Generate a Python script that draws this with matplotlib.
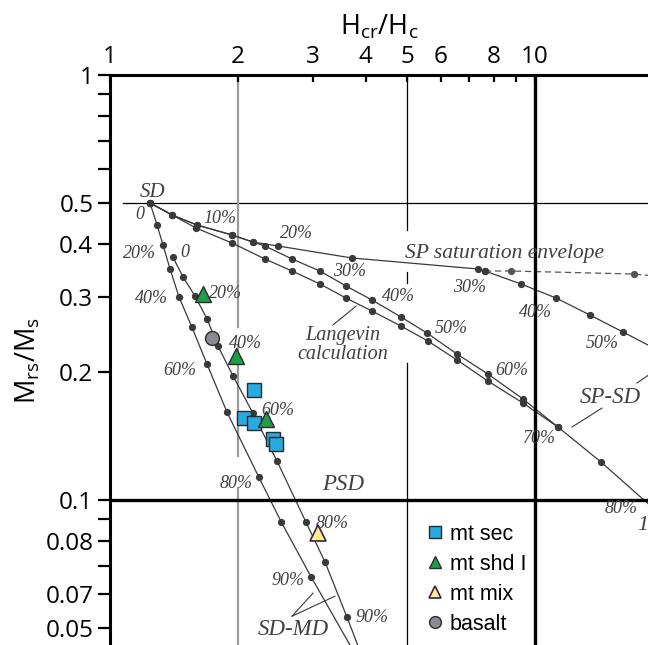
import matplotlib
matplotlib.use("Agg")
import matplotlib.pyplot as plt

# SD-MD mixing curves, one dot per mixing step; last point only extends the line
sdmd1_x = [1.242, 1.290, 1.333, 1.384, 1.454, 1.559, 1.691, 1.885, 2.242, 2.526, 2.972, 3.90]
sdmd1_y = [0.500, 0.444, 0.398, 0.350, 0.300, 0.255, 0.209, 0.161, 0.113, 0.089, 0.066, 0.041]
sdmd2_x = [1.406, 1.485, 1.585, 1.691, 1.796, 1.947, 2.170, 2.472, 2.892, 3.206, 3.612, 3.95]
sdmd2_y = [0.373, 0.335, 0.302, 0.267, 0.230, 0.196, 0.160, 0.1235, 0.0887, 0.0715, 0.0530, 0.042]

# SP-SD mixing curve and the Langevin calculation
spsd_x = [1.242, 1.399, 1.602, 1.937, 2.170, 2.316, 2.681, 3.119, 3.592, 4.136, 4.838, 5.570,
          6.553, 7.750, 9.371, 11.33, 14.30, 22.5]
spsd_y = [0.500, 0.4685, 0.4437, 0.4203, 0.4045, 0.3960, 0.3691, 0.3458, 0.3189, 0.2955, 0.2696,
          0.2472, 0.2206, 0.1979, 0.1729, 0.1485, 0.1229, 0.0823]
lang_x = [1.242, 1.594, 1.937, 2.316, 2.681, 3.119, 3.592, 4.136, 4.838, 5.600, 6.553, 7.750,
          9.371, 11.33]
lang_y = [0.500, 0.4365, 0.4025, 0.3691, 0.3458, 0.3224, 0.2987, 0.2784, 0.2567, 0.2366, 0.2136,
          0.1905, 0.1691, 0.1485]

# SP saturation envelope (solid part, then dashed) and the fine-SP mixing curve leaving it
env_x = [1.242, 1.399, 1.602, 1.937, 2.170, 2.485, 3.710, 7.341, 7.625]
env_y = [0.500, 0.4685, 0.4437, 0.4203, 0.4045, 0.3960, 0.3711, 0.3496, 0.3458]
env_dash_x = [7.625, 8.779, 17.10, 19.5]
env_dash_y = [0.3458, 0.3458, 0.3402, 0.336]
spsd2_x = [7.625, 9.270, 11.21, 13.47, 16.11, 19.5]
spsd2_y = [0.3458, 0.3224, 0.2987, 0.2725, 0.2485, 0.2250]

# samples
mt_sec_x = [2.182, 2.067, 2.182, 2.419, 2.459]
mt_sec_y = [0.1815, 0.156, 0.1518, 0.1391, 0.1354]
mt_shd_x = [1.655, 1.980, 2.329]
mt_shd_y = [0.3053, 0.2183, 0.155]
mt_mix_x = [3.086]
mt_mix_y = [0.0836]
basalt_x = [1.738]
basalt_y = [0.2405]

x_ticks = [1, 2, 3, 4, 5, 6, 7, 8, 9, 10]
x_labels = ["1", "2", "3", "4", "5", "6", "", "8", "", "10"]
y_ticks = [1, 0.9, 0.8, 0.7, 0.6, 0.5, 0.4, 0.3, 0.2, 0.1, 0.09, 0.08, 0.07, 0.06, 0.05]
y_labels = ["1", "", "", "", "", "0.5", "0.4", "0.3", "0.2", "0.1", "", "0.08", "", "0.07", "0.05"]

plt.rcParams["font.family"] = "Open Sans"
plt.rcParams["mathtext.fontset"] = "custom"
plt.rcParams["mathtext.rm"] = "Open Sans"

fig = plt.figure(figsize=(6.48, 6.45), dpi=100)
ax = fig.add_axes([110 / 648, 0, 538 / 648, 570 / 645])
ax.set_xscale("log")
ax.set_yscale("log")
ax.set_xlim(1, 18.45)
ax.set_ylim(0.0456, 1)

for side in ["right", "bottom"]:
    ax.spines[side].set_visible(False)
for side in ["top", "left"]:
    ax.spines[side].set_linewidth(2.2)

ax.xaxis.tick_top()
ax.xaxis.set_label_position("top")
ax.set_xticks(x_ticks)
ax.set_xticklabels(x_labels)
ax.set_xticks([], minor=True)
ax.set_yticks(y_ticks)
ax.set_yticklabels(y_labels)
ax.set_yticks([], minor=True)
ax.tick_params(axis="x", direction="in", length=5, width=1.6, labelsize=17.5, pad=4)
ax.tick_params(axis="y", direction="out", length=9, width=1.6, labelsize=17.5, pad=3)
ax.set_xlabel(r"$\mathregular{H_{cr}/H_c}$", fontsize=19.5, labelpad=8)
ax.set_ylabel(r"$\mathregular{M_{rs}/M_s}$", fontsize=19.5, labelpad=2)

# domain-state boundaries
ax.axvline(10, color="k", lw=2.4, zorder=3)
ax.axhline(0.1, color="k", lw=2.4, zorder=3)
ax.axhline(0.5, xmin=0.024, color="k", lw=0.9, zorder=1)
for y0, y1 in [(1, 0.432), (0.344, 0.324), (0.210, 0.0456)]:
    ax.plot([5, 5], [y0, y1], color="k", lw=0.9, zorder=1)
for y0, y1 in [(1, 0.255), (0.232, 0.127), (0.107, 0.0456)]:
    ax.plot([2, 2], [y0, y1], color="#9a9a9a", lw=1.6, zorder=1)

# model curves
curve = dict(color="#3a3a3a", lw=0.9, marker="o", ms=4.2, zorder=2)
ax.plot(sdmd1_x, sdmd1_y, markevery=slice(0, -1), **curve)
ax.plot(sdmd2_x, sdmd2_y, markevery=slice(0, -1), **curve)
ax.plot(spsd_x, spsd_y, markevery=slice(0, -1), **curve)
ax.plot(lang_x, lang_y, **curve)
ax.plot(env_x, env_y, **curve)
ax.plot(env_dash_x, env_dash_y, color="#555555", lw=0.9, ls=(0, (5, 3)), marker="o", ms=4.2,
        markevery=[1, 2], zorder=2)
ax.plot(spsd2_x, spsd2_y, markevery=slice(0, -1), **curve)

# leader lines
lead = dict(color="#3a3a3a", lw=0.8, zorder=2)
ax.plot([3.347, 3.793], [0.2581, 0.2860], **lead)
ax.plot([12.22, 14.38], [0.1485, 0.1646], **lead)
ax.plot([17.38, 18.65], [0.1885, 0.1979], **lead)
ax.plot([2.681, 3.004], [0.0533, 0.0604], **lead)
ax.plot([2.681, 3.383], [0.0533, 0.0594], **lead)

# curve annotations
serif = dict(family="Liberation Serif", style="italic", color="#404040", ha="center", va="center")
pct = [
    ("0", 1.176, 0.4685), ("10%", 1.815, 0.4608), ("20%", 2.740, 0.4248),
    ("20%", 1.176, 0.3812), ("0", 1.502, 0.3833), ("40%", 1.255, 0.2987),
    ("20%", 1.865, 0.3069), ("40%", 2.078, 0.2341), ("60%", 1.461, 0.2022),
    ("60%", 2.485, 0.1620), ("80%", 1.980, 0.1096), ("80%", 3.330, 0.0883),
    ("90%", 2.624, 0.0645), ("90%", 4.136, 0.0530),
    ("30%", 3.670, 0.3458), ("40%", 4.761, 0.3020), ("50%", 6.345, 0.2539),
    ("60%", 8.831, 0.2022), ("70%", 10.27, 0.1399), ("80%", 15.94, 0.0957),
    ("30%", 7.032, 0.3170), ("40%", 10.0, 0.2769), ("50%", 14.38, 0.2341),
]
for s, x, y in pct:
    ax.text(x, y, s, fontsize=13, zorder=4, **serif)
ax.text(1.262, 0.5304, "SD", fontsize=15, **serif)
ax.text(3.533, 0.1085, "PSD", fontsize=16.5, **serif)
ax.text(2.696, 0.0497, "SD-MD", fontsize=16.5, **serif)
ax.text(15.02, 0.1747, "SP-SD", fontsize=16.5, **serif)
ax.text(8.456, 0.3812, "SP saturation envelope", fontsize=15.5, **serif)
ax.text(3.533, 0.2310, "Langevin\ncalculation", fontsize=14.5, linespacing=1.0, **serif)
ax.text(17.48, 0.0873, "10 nm", fontsize=16, family="Liberation Serif", style="italic",
        color="#404040", ha="left", va="center")

# measured samples
ax.plot(mt_sec_x, mt_sec_y, ls="none", marker="s", ms=9.5, mfc="#29a9e1", mec="#2b2b2b",
        mew=1.0, zorder=5, label="mt sec")
ax.plot(mt_shd_x, mt_shd_y, ls="none", marker="^", ms=11, mfc="#1e9e46", mec="#2b2b2b",
        mew=1.0, zorder=6, label="mt shd I")
ax.plot(mt_mix_x, mt_mix_y, ls="none", marker="^", ms=11, mfc="#fdf08e", mec="#3c1f4f",
        mew=1.2, zorder=6, label="mt mix")
ax.plot(basalt_x, basalt_y, ls="none", marker="o", ms=10, mfc="#8a8a92", mec="#2b2b2b",
        mew=1.0, zorder=6, label="basalt")

leg = ax.legend(loc="upper left", bbox_to_anchor=(0.572, 0.228), frameon=False,
                prop={"family": "Liberation Sans", "size": 15.5}, handlelength=0.8,
                handletextpad=0.3, labelspacing=0.42, markerscale=0.85, borderaxespad=0)

fig.savefig("out.png", dpi=100)
